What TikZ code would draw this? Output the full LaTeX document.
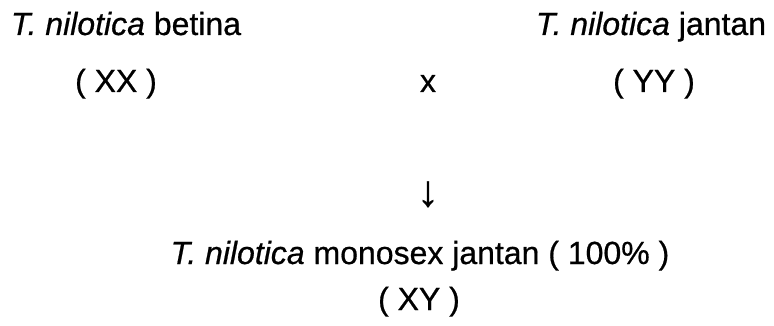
\documentclass[tikz,border=0pt]{standalone}
\usepackage{fontspec}
\setmainfont{Liberation Sans}[FakeBold=0.6]
\begin{document}
\begin{tikzpicture}[x=1pt,y=-1pt,
  lbl/.style={anchor=base,inner sep=0pt,font=\fontsize{32}{38}\selectfont}]
\useasboundingbox[fill=white] (0,0) rectangle (774,326);
\node[lbl] (fem) at (126,35) {\textit{T. nilotica} betina};
\node[lbl] (mal) at (651,35) {\textit{T. nilotica} jantan};
\node[lbl] (xx) at (116,92) {( XX )};
\node[lbl] (cross) at (428,92) {x};
\node[lbl] (yy) at (654,92) {( YY )};
\node[lbl,font=\fontsize{44}{50}\selectfont] (arr) at (428,206) {↓};
\node[lbl] (off) at (420,264) {\textit{T. nilotica} monosex jantan ( 100\% )};
\node[lbl] (xy) at (419,310) {( XY )};
\end{tikzpicture}
\end{document}
